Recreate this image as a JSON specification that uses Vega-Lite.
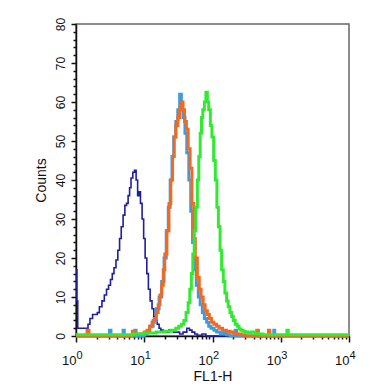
{
  "$schema": "https://vega.github.io/schema/vega-lite/v6.json",
  "width": 273,
  "height": 312,
  "autosize": {"type": "none"},
  "padding": {"left": 76, "top": 24, "right": 28, "bottom": 55},
  "background": "white",
  "config": {
    "view": {"stroke": "#666666", "strokeWidth": 1.5},
    "font": "Liberation Sans",
    "axis": {"grid": false, "domainColor": "#111111", "tickColor": "#111111", "labelColor": "#111111", "titleColor": "#111111", "labelFont": "Liberation Sans", "titleFont": "Liberation Sans", "titleFontWeight": "normal", "domainWidth": 1.5, "tickWidth": 1.5}
  },
  "datasets": {
    "hist": [
      {"s":"b","x":1,"y":17},{"s":"b","x":1.03,"y":9},{"s":"b","x":1.06,"y":2},{"s":"b","x":1.5,"y":3},{"s":"b","x":1.6,"y":4.5},{"s":"b","x":1.75,"y":5.5},{"s":"b","x":2.05,"y":6},{"s":"b","x":2.2,"y":7.5},{"s":"b","x":2.4,"y":9},{"s":"b","x":2.6,"y":10.5},{"s":"b","x":2.8,"y":12},{"s":"b","x":3.0,"y":13},{"s":"b","x":3.2,"y":14.5},{"s":"b","x":3.4,"y":16},{"s":"b","x":3.6,"y":17.5},{"s":"b","x":3.85,"y":19.5},{"s":"b","x":4.1,"y":22},{"s":"b","x":4.35,"y":25},{"s":"b","x":4.6,"y":28},{"s":"b","x":4.9,"y":31},{"s":"b","x":5.2,"y":33.5},{"s":"b","x":5.5,"y":34},{"s":"b","x":5.8,"y":36},{"s":"b","x":6.1,"y":38},{"s":"b","x":6.4,"y":40.5},{"s":"b","x":6.8,"y":42},{"s":"b","x":7.2,"y":42.5},{"s":"b","x":7.6,"y":40},{"s":"b","x":8.0,"y":36},{"s":"b","x":8.4,"y":37},{"s":"b","x":8.8,"y":34},{"s":"b","x":9.3,"y":30},{"s":"b","x":9.8,"y":25},{"s":"b","x":10.3,"y":20},{"s":"b","x":10.9,"y":16},{"s":"b","x":11.5,"y":12},{"s":"b","x":12.2,"y":9},{"s":"b","x":13,"y":7},{"s":"b","x":13.8,"y":5},{"s":"b","x":14.6,"y":4},{"s":"b","x":15.5,"y":3},{"s":"b","x":16.5,"y":2},{"s":"b","x":17.5,"y":1.5},{"s":"b","x":19,"y":1},{"s":"b","x":23,"y":1.5},{"s":"b","x":27,"y":1},{"s":"b","x":33,"y":0.5},{"s":"b","x":37,"y":1},{"s":"b","x":42,"y":2},{"s":"b","x":46,"y":1.5},{"s":"b","x":50,"y":1},{"s":"b","x":55,"y":0.5},{"s":"b","x":60,"y":0.2},{"s":"b","x":70,"y":0.5},{"s":"b","x":80,"y":0},{"s":"b","x":10000,"y":0},

      {"s":"lb","x":1,"y":0},{"s":"lb","x":3.1,"y":1.5},{"s":"lb","x":3.25,"y":0},{"s":"lb","x":4.9,"y":1.5},{"s":"lb","x":5.1,"y":0},{"s":"lb","x":7.3,"y":1.5},{"s":"lb","x":7.6,"y":0},{"s":"lb","x":10,"y":0.5},{"s":"lb","x":11,"y":1},{"s":"lb","x":12,"y":2.5},{"s":"lb","x":13.5,"y":4},{"s":"lb","x":15,"y":7},{"s":"lb","x":16.5,"y":10},{"s":"lb","x":18,"y":14},{"s":"lb","x":19.5,"y":20},{"s":"lb","x":21,"y":27},{"s":"lb","x":22.5,"y":33},{"s":"lb","x":24,"y":40},{"s":"lb","x":25.5,"y":46},{"s":"lb","x":27,"y":51},{"s":"lb","x":29,"y":55},{"s":"lb","x":31,"y":58},{"s":"lb","x":33,"y":62},{"s":"lb","x":35,"y":58},{"s":"lb","x":37,"y":56},{"s":"lb","x":39.5,"y":52},{"s":"lb","x":42,"y":47},{"s":"lb","x":45,"y":40},{"s":"lb","x":48,"y":32},{"s":"lb","x":51,"y":24},{"s":"lb","x":54.5,"y":17},{"s":"lb","x":58,"y":13},{"s":"lb","x":62,"y":10},{"s":"lb","x":66,"y":8},{"s":"lb","x":71,"y":6},{"s":"lb","x":76,"y":4.5},{"s":"lb","x":82,"y":3.5},{"s":"lb","x":88,"y":2.5},{"s":"lb","x":95,"y":2},{"s":"lb","x":105,"y":1.5},{"s":"lb","x":115,"y":1},{"s":"lb","x":130,"y":0.5},{"s":"lb","x":145,"y":1},{"s":"lb","x":160,"y":0.3},{"s":"lb","x":180,"y":0},{"s":"lb","x":215,"y":1.5},{"s":"lb","x":225,"y":0},{"s":"lb","x":790,"y":1.5},{"s":"lb","x":815,"y":0},{"s":"lb","x":10000,"y":0},

      {"s":"o","x":1,"y":0},{"s":"o","x":1.45,"y":1.5},{"s":"o","x":1.55,"y":0},{"s":"o","x":6.7,"y":1.2},{"s":"o","x":7.1,"y":0.5},{"s":"o","x":10,"y":1},{"s":"o","x":11,"y":1.5},{"s":"o","x":12,"y":2.5},{"s":"o","x":13,"y":3.5},{"s":"o","x":14,"y":4.5},{"s":"o","x":15,"y":6},{"s":"o","x":16,"y":8},{"s":"o","x":17,"y":10.5},{"s":"o","x":18,"y":13},{"s":"o","x":19,"y":17},{"s":"o","x":20,"y":21},{"s":"o","x":21.5,"y":27},{"s":"o","x":23,"y":34},{"s":"o","x":24.5,"y":40},{"s":"o","x":26,"y":46},{"s":"o","x":27.5,"y":51},{"s":"o","x":29,"y":54},{"s":"o","x":31,"y":56},{"s":"o","x":33,"y":58},{"s":"o","x":35,"y":60},{"s":"o","x":37,"y":58},{"s":"o","x":39,"y":55},{"s":"o","x":41.5,"y":53},{"s":"o","x":44,"y":48},{"s":"o","x":47,"y":43},{"s":"o","x":50,"y":34},{"s":"o","x":53,"y":25},{"s":"o","x":56,"y":20},{"s":"o","x":60,"y":15},{"s":"o","x":64,"y":12},{"s":"o","x":68,"y":10},{"s":"o","x":73,"y":8},{"s":"o","x":78,"y":6.5},{"s":"o","x":84,"y":5.5},{"s":"o","x":90,"y":4.5},{"s":"o","x":97,"y":3.5},{"s":"o","x":105,"y":3},{"s":"o","x":115,"y":2.5},{"s":"o","x":125,"y":2},{"s":"o","x":140,"y":1.5},{"s":"o","x":160,"y":1.2},{"s":"o","x":180,"y":1},{"s":"o","x":200,"y":0.7},{"s":"o","x":230,"y":0.5},{"s":"o","x":260,"y":0.3},{"s":"o","x":300,"y":0},{"s":"o","x":445,"y":1.5},{"s":"o","x":470,"y":0},{"s":"o","x":660,"y":1.5},{"s":"o","x":690,"y":0},{"s":"o","x":10000,"y":0},

      {"s":"g","x":1,"y":0.3},{"s":"g","x":7,"y":0.5},{"s":"g","x":10,"y":0.8},{"s":"g","x":15,"y":1},{"s":"g","x":20,"y":1.2},{"s":"g","x":25,"y":1.5},{"s":"g","x":29,"y":2},{"s":"g","x":32,"y":2.5},{"s":"g","x":35,"y":3},{"s":"g","x":38,"y":4},{"s":"g","x":41,"y":6},{"s":"g","x":44,"y":8.5},{"s":"g","x":46.5,"y":12},{"s":"g","x":49,"y":16},{"s":"g","x":51.5,"y":21},{"s":"g","x":54,"y":27},{"s":"g","x":57,"y":33},{"s":"g","x":60,"y":40},{"s":"g","x":63,"y":46},{"s":"g","x":66,"y":52},{"s":"g","x":69,"y":56},{"s":"g","x":72,"y":58},{"s":"g","x":76,"y":60},{"s":"g","x":80,"y":62.5},{"s":"g","x":84,"y":60},{"s":"g","x":88,"y":58},{"s":"g","x":93,"y":54},{"s":"g","x":98,"y":51},{"s":"g","x":104,"y":45},{"s":"g","x":110,"y":40},{"s":"g","x":116,"y":33},{"s":"g","x":122,"y":28},{"s":"g","x":129,"y":22},{"s":"g","x":136,"y":17},{"s":"g","x":144,"y":14},{"s":"g","x":152,"y":11},{"s":"g","x":161,"y":9},{"s":"g","x":170,"y":7.5},{"s":"g","x":180,"y":6},{"s":"g","x":191,"y":5},{"s":"g","x":202,"y":4},{"s":"g","x":215,"y":3},{"s":"g","x":230,"y":2.5},{"s":"g","x":245,"y":1.8},{"s":"g","x":260,"y":1.5},{"s":"g","x":280,"y":1.2},{"s":"g","x":300,"y":1},{"s":"g","x":330,"y":0.8},{"s":"g","x":370,"y":1},{"s":"g","x":420,"y":0.6},{"s":"g","x":480,"y":0.5},{"s":"g","x":550,"y":0.3},{"s":"g","x":1230,"y":1.5},{"s":"g","x":1290,"y":0.3},{"s":"g","x":10000,"y":0.3}
    ]
  },
  "data": {"name": "hist"},
  "resolve": {"axis": {"x": "independent", "y": "independent"}},
  "layer": [
    {
      "transform": [{"filter": "datum.s == 'b'"}],
      "mark": {"type": "line", "interpolate": "step-after", "color": "#1f1f9e", "strokeWidth": 1.6},
      "encoding": {
        "x": {"field": "x", "type": "quantitative", "scale": {"type": "log", "domain": [1, 10000], "nice": false},
          "axis": {"orient": "bottom", "title": "FL1-H", "titleFontSize": 14, "titlePadding": 2, "values": [1, 10, 100, 1000, 10000], "labelExpr": "'10'", "labelFontSize": 13, "labelAlign": "right", "labelPadding": 12, "tickSize": 6, "labelFlush": false, "labelOverlap": false}},
        "y": {"field": "y", "type": "quantitative", "scale": {"domain": [0, 80], "nice": false},
          "axis": {"orient": "left", "title": "Counts", "titleFontSize": 14, "titlePadding": 6, "values": [0, 10, 20, 30, 40, 50, 60, 70, 80], "labelAngle": -90, "labelFontSize": 12, "tickSize": 5, "labelPadding": 4, "labelFlush": false, "labelOverlap": false}}
      }
    },
    {
      "transform": [{"filter": "datum.s == 'lb'"}],
      "mark": {"type": "line", "interpolate": "step-after", "color": "#3d9be0", "strokeWidth": 3},
      "encoding": {
        "x": {"field": "x", "type": "quantitative", "scale": {"type": "log", "domain": [1, 10000], "nice": false},
          "axis": {"orient": "bottom", "title": null, "labels": false, "domain": false, "tickSize": 3, "values": [2,3,4,5,6,7,8,9,20,30,40,50,60,70,80,90,200,300,400,500,600,700,800,900,2000,3000,4000,5000,6000,7000,8000,9000]}},
        "y": {"field": "y", "type": "quantitative", "scale": {"domain": [0, 80], "nice": false},
          "axis": {"orient": "left", "title": null, "labels": false, "domain": false, "tickSize": 3, "values": [2,4,6,8,12,14,16,18,22,24,26,28,32,34,36,38,42,44,46,48,52,54,56,58,62,64,66,68,72,74,76,78]}}
      }
    },
    {
      "transform": [{"filter": "datum.s == 'o'"}],
      "mark": {"type": "line", "interpolate": "step-after", "color": "#f26a22", "strokeWidth": 3},
      "encoding": {
        "x": {"field": "x", "type": "quantitative", "scale": {"type": "log", "domain": [1, 10000], "nice": false},
          "axis": {"orient": "bottom", "title": null, "domain": false, "ticks": false, "values": [1, 10, 100, 1000, 10000], "labelExpr": "'' + round(log(datum.value) / LN10)", "labelFontSize": 11, "labelAlign": "left", "labelPadding": 13, "labelFlush": false, "labelOverlap": false}},
        "y": {"field": "y", "type": "quantitative", "scale": {"domain": [0, 80], "nice": false}, "axis": null}
      }
    },
    {
      "transform": [{"filter": "datum.s == 'g'"}],
      "mark": {"type": "line", "interpolate": "step-after", "color": "#33ea33", "strokeWidth": 3},
      "encoding": {
        "x": {"field": "x", "type": "quantitative", "scale": {"type": "log", "domain": [1, 10000], "nice": false}, "axis": null},
        "y": {"field": "y", "type": "quantitative", "scale": {"domain": [0, 80], "nice": false}, "axis": null}
      }
    }
  ]
}
